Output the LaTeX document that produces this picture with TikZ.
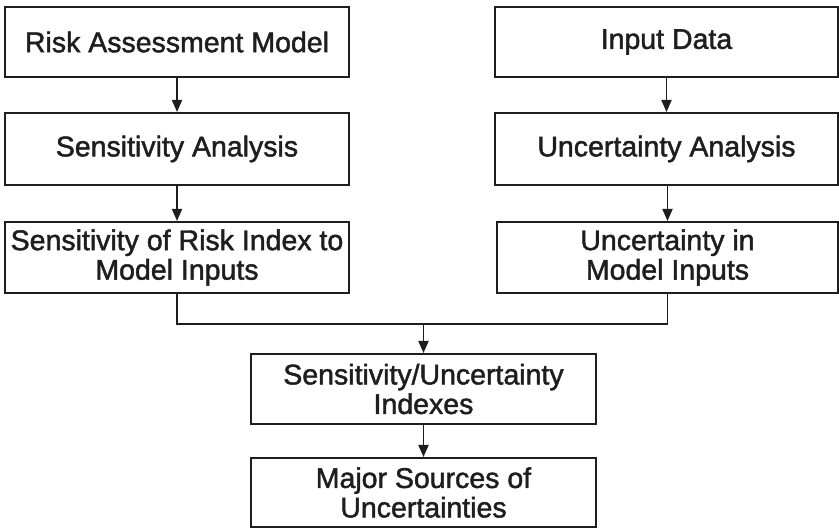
\documentclass[tikz,border=0pt]{standalone}
\usepackage{fontspec}
\setmainfont[FakeBold=1.6]{Liberation Sans}
\usetikzlibrary{arrows.meta}
\definecolor{ink}{HTML}{1E1E1E}
\begin{document}
\begin{tikzpicture}[x=1pt,y=1pt,
  box/.style={draw=ink,line width=2pt,rectangle,inner sep=0pt,text=ink,
    font=\fontsize{28.5}{29.5}\selectfont,align=center},
  conn/.style={draw=ink,line width=1.8pt},
  arr/.style={conn,-{Triangle[length=12pt,width=10pt]}}]
\useasboundingbox (0,0) rectangle (839,528);
% left column
\node[box,minimum width=344pt,minimum height=70pt] (A) at (177,528-42) {Risk Assessment Model};
\node[box,minimum width=344pt,minimum height=72pt] (B) at (177,528-149) {Sensitivity Analysis};
\node[box,minimum width=344pt,minimum height=71pt] (C) at (177,528-257.5) {Sensitivity of Risk Index to\\Model Inputs};
% right column
\node[box,minimum width=343pt,minimum height=70pt] (D) at (666.5,528-42) {Input Data};
\node[box,minimum width=343pt,minimum height=72pt] (E) at (666.5,528-149) {Uncertainty Analysis};
\node[box,minimum width=341pt,minimum height=71pt] (F) at (667.5,528-257.5) {Uncertainty in\\Model Inputs};
% bottom
\node[box,minimum width=345pt,minimum height=70pt] (G) at (423.5,528-389) {Sensitivity/Uncertainty\\Indexes};
\node[box,minimum width=345pt,minimum height=69pt] (H) at (423.5,528-492.5) {Major Sources of\\Uncertainties};
\coordinate (J) at (423.5,528-324);
\draw[arr] (A) -- (B);
\draw[arr] (B) -- (C);
\draw[arr] (D.south -| E.north) -- (E.north);
\draw[arr] (E.south -| F.north) -- (F.north);
\draw[conn] (C.south) |- (J);
\draw[conn] (F.south) |- (J);
\draw[arr] (J) -- (G.north);
\draw[arr] (G) -- (H);
\end{tikzpicture}
\end{document}
